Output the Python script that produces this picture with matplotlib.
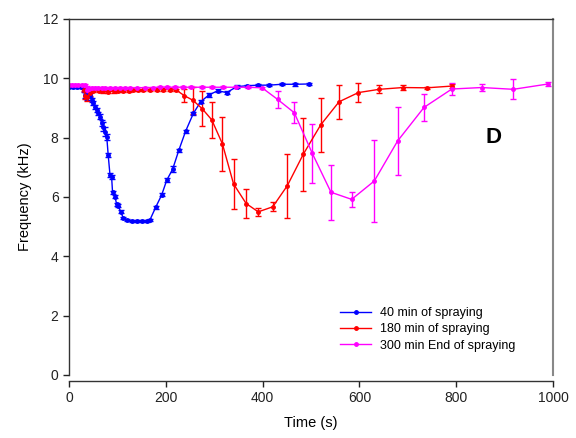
import matplotlib
matplotlib.use("Agg")
import matplotlib.pyplot as plt
from matplotlib.lines import Line2D

plt.rcParams['font.family'] = ['Liberation Sans', 'DejaVu Sans']

# ---- data ----
blue_t = [0, 8, 16, 24, 30, 33, 36.5, 40, 43, 47, 50, 54, 57, 60.5, 64, 67.5, 71, 74.5,
          78, 81, 84.7, 88, 90, 95, 98.5, 102, 106.8, 112, 119, 129.5, 140, 150, 160.5, 167,
          179, 191.5, 202, 214, 227, 241, 257, 272, 289, 307, 326, 346.5, 367, 391, 414,
          439.5, 467, 496.5]
blue_y = [9.72, 9.72, 9.72, 9.7, 9.6, 9.44, 9.38, 9.45, 9.44, 9.27, 9.16, 9.04, 8.93, 8.82,
          8.71, 8.48, 8.37, 8.2, 8.03, 7.41, 6.74, 6.68, 6.16, 6.01, 5.75, 5.7, 5.5, 5.3,
          5.22, 5.2, 5.19, 5.19, 5.2, 5.22, 5.65, 6.07, 6.57, 6.93, 7.58, 8.22, 8.82, 9.21,
          9.44, 9.58, 9.52, 9.72, 9.75, 9.77, 9.77, 9.8, 9.8, 9.81]
blue_e = [0.03, 0.03, 0.03, 0.03, 0.05, 0.1, 0.1, 0.08, 0.06, 0.06, 0.06, 0.06, 0.06, 0.06,
          0.08, 0.1, 0.15, 0.15, 0.1, 0.06, 0.06, 0.06, 0.05, 0.05, 0.05, 0.05, 0.05, 0.04,
          0.04, 0.04, 0.04, 0.04, 0.04, 0.04, 0.06, 0.05, 0.08, 0.1, 0.05, 0.05, 0.05, 0.05,
          0.06, 0.05, 0.06, 0.05, 0.04, 0.04, 0.04, 0.04, 0.05, 0.04]

red_t = [30, 34, 38, 43, 50, 61, 71, 81, 92, 102, 112, 123, 133, 143, 153, 167, 181, 195,
         209, 222, 238, 256, 275, 295, 317, 340, 366, 391, 421, 451, 484, 520, 558, 598,
         641, 690, 739, 792]
red_y = [9.62, 9.42, 9.38, 9.5, 9.58, 9.57, 9.56, 9.55, 9.56, 9.57, 9.58, 9.58, 9.6, 9.6,
         9.6, 9.61, 9.62, 9.62, 9.62, 9.6, 9.42, 9.26, 8.98, 8.6, 7.79, 6.44, 5.78, 5.5,
         5.67, 6.38, 7.44, 8.43, 9.21, 9.52, 9.63, 9.69, 9.68, 9.74]
red_e = [0.05, 0.12, 0.15, 0.08, 0.04, 0.04, 0.04, 0.05, 0.04, 0.04, 0.04, 0.04, 0.04,
         0.04, 0.04, 0.04, 0.04, 0.04, 0.04, 0.04, 0.23, 0.45, 0.6, 0.6, 0.9, 0.85, 0.5,
         0.14, 0.15, 1.08, 1.23, 0.9, 0.58, 0.31, 0.14, 0.08, 0.03, 0.08]

mag_t = [0, 5.5, 12, 19, 26, 33, 38, 42, 47, 54, 60.5, 67.5, 74, 85, 95, 105, 116, 126,
         140, 157, 174, 188, 202, 219, 236, 253, 274, 295, 319, 346, 370, 399, 431, 465.5,
         502.7, 541.3, 584, 630.8, 679, 733.5, 791, 852.7, 918, 990]
mag_y = [9.78, 9.78, 9.78, 9.77, 9.77, 9.76, 9.6, 9.65, 9.68, 9.68, 9.68, 9.68, 9.68, 9.68,
         9.68, 9.68, 9.68, 9.68, 9.68, 9.69, 9.69, 9.7, 9.7, 9.7, 9.7, 9.7, 9.7, 9.7, 9.7,
         9.7, 9.7, 9.68, 9.29, 8.84, 7.47, 6.16, 5.92, 6.54, 7.89, 9.02, 9.64, 9.69, 9.63,
         9.81]
mag_e = [0.04, 0.04, 0.04, 0.04, 0.04, 0.04, 0.15, 0.06, 0.04, 0.03, 0.03, 0.03, 0.03,
         0.03, 0.03, 0.03, 0.03, 0.03, 0.03, 0.03, 0.03, 0.03, 0.03, 0.03, 0.03, 0.03,
         0.03, 0.03, 0.03, 0.03, 0.03, 0.03, 0.28, 0.36, 1.0, 0.93, 0.25, 1.37, 1.15, 0.46,
         0.2, 0.12, 0.34, 0.08]

labels = ["40 min of spraying", "180 min of spraying", "300 min End of spraying"]
colors = ["#0000ff", "#ff0000", "#ff00ff"]

fig = plt.figure(figsize=(5.76, 4.38), dpi=100)
ax = fig.add_axes([69 / 576, 1 - 375 / 438, 484 / 576, 356 / 438])

handles = []
for t, y, e, c, lab in zip([blue_t, red_t, mag_t], [blue_y, red_y, mag_y],
                           [blue_e, red_e, mag_e], colors, labels):
    ax.errorbar(t, y, yerr=e, color=c, ecolor=c, elinewidth=1.0, capsize=2,
                capthick=1.0, lw=1.0, marker='o', ms=2.5)
    handles.append(Line2D([], [], color=c, lw=1.0, marker='o', ms=2.5, label=lab))

ax.set_xlim(0, 1000)
ax.set_ylim(0, 12)
ax.set_xticks([0, 200, 400, 600, 800, 1000])
ax.set_yticks([0, 2, 4, 6, 8, 10, 12])
ax.tick_params(direction='out', length=4, width=1, labelsize=10, colors='#222222')
ax.spines['bottom'].set_position(('outward', 4))
ax.spines['right'].set_color('#888888')
ax.spines['right'].set_linewidth(1.5)
for s in ['left', 'bottom', 'top']:
    ax.spines[s].set_color('#333333')
    ax.spines[s].set_linewidth(1.0)

ax.set_xlabel("Time (s)", fontsize=10.5, labelpad=8)
ax.set_ylabel("Frequency (kHz)", fontsize=10.5, labelpad=8)

ax.text(878, 8.0, "D", fontsize=16, fontweight='bold', ha='center', va='center')

leg = ax.legend(handles=handles, loc='upper left', bbox_to_anchor=(0.55, 0.205),
                frameon=False, fontsize=9, handlelength=2.5, handletextpad=0.7,
                labelspacing=0.35, borderaxespad=0)

fig.savefig("out.png", dpi=100)
